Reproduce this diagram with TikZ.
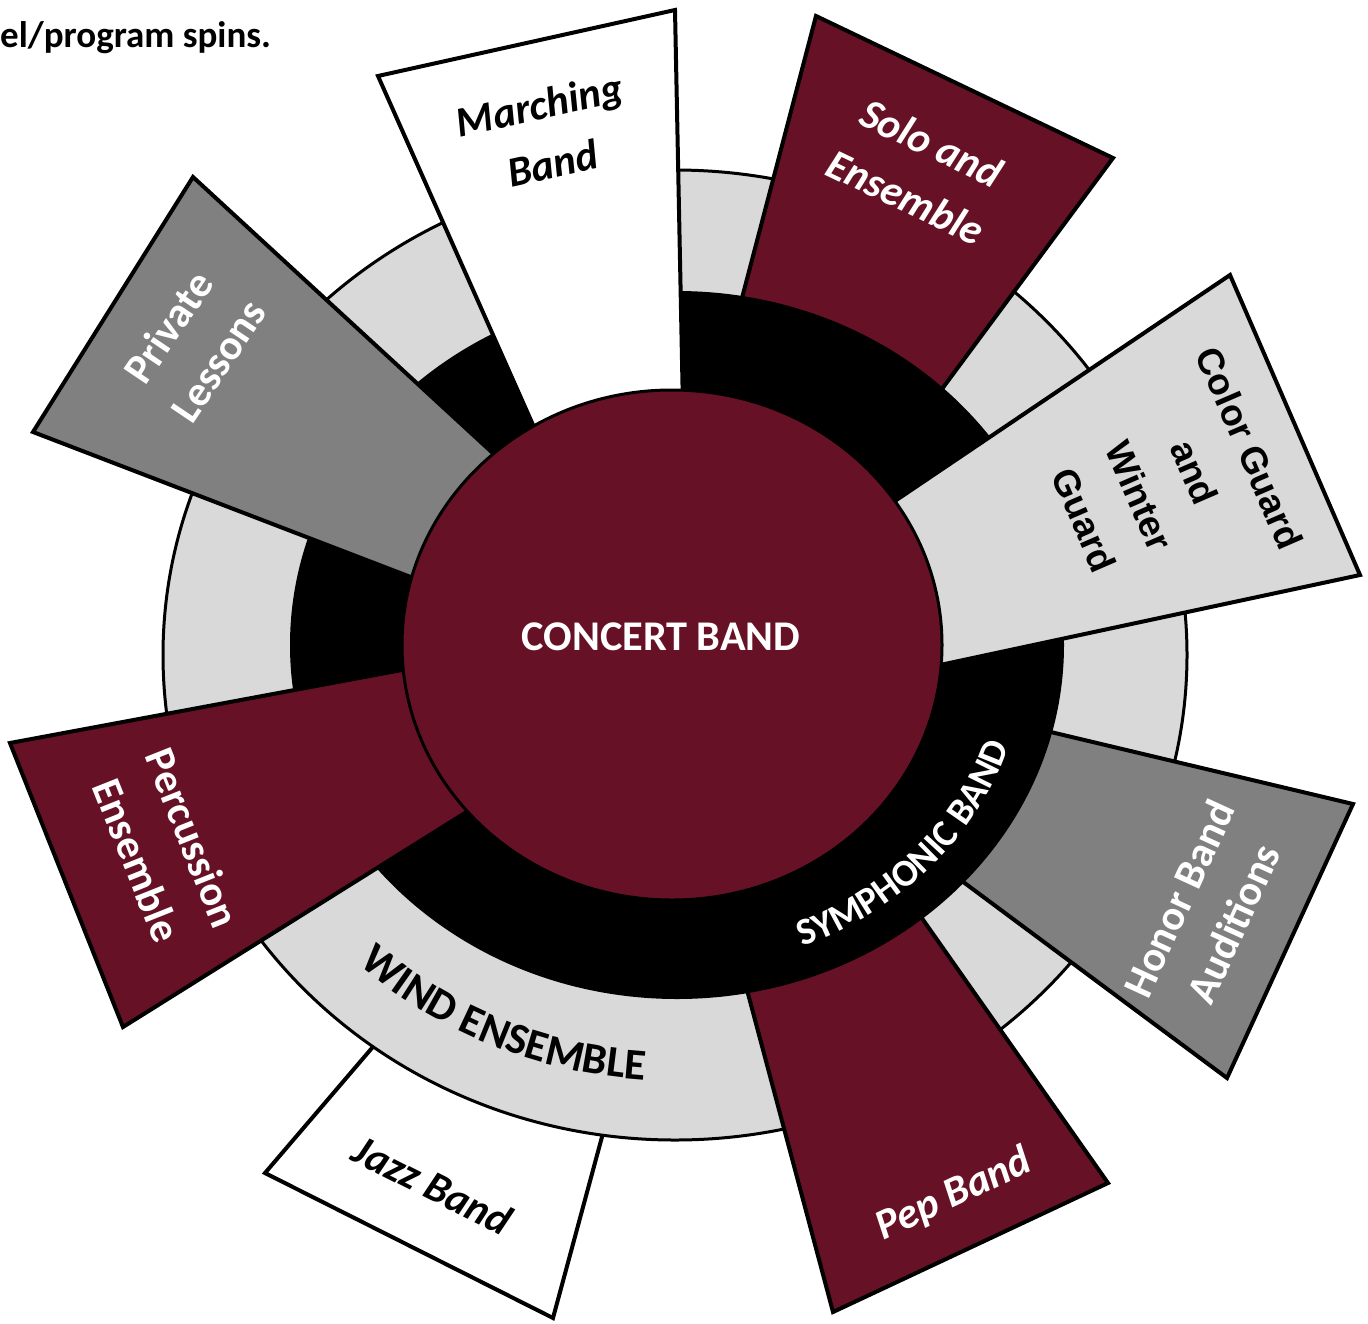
\documentclass[tikz,border=0pt]{standalone}
\usepackage{fontspec}
\setmainfont{Carlito}
\newfontfamily\guardfont{Liberation Sans}
\usetikzlibrary{decorations.text}
\definecolor{bandmaroon}{RGB}{103,17,38}
\definecolor{bandgray}{RGB}{128,128,128}
\definecolor{bandlight}{RGB}{217,217,217}
\newcommand\bandringfont{\fontsize{38}{40}\selectfont\bfseries}
\newcommand\windringfont{\fontsize{44}{46}\selectfont\bfseries}
\tikzset{
  petal/.style={draw=black, line width=4pt, line join=miter},
  ringline/.style={draw=black, line width=3pt},
  lbl/.style={font=\fontsize{42.5}{60}\selectfont\bfseries\itshape, align=center, inner sep=0pt},
  uplbl/.style={font=\fontsize{42.5}{60}\selectfont\bfseries, align=center, inner sep=0pt},
}
\begin{document}
\begin{tikzpicture}[x=1pt,y=-1pt]
        \useasboundingbox (0,0) rectangle (1368,1323);
        \coordinate (ctr) at (677,645);
        \coordinate (gctr) at (675,655);
        \coordinate (cb) at (672,645);
        % petal under the gray ring
        \filldraw [petal, fill=white] (265,1173)--(553,1318)--(639,1000)--(413,1000)--cycle;
        \filldraw [ringline, fill=bandlight] (gctr) ellipse[x radius=512pt, y radius=485pt];
        % petals under the black ring
        \filldraw [petal, fill=bandmaroon] (816,16)--(1113,158)--(919,420)--(710,420)--cycle;
        \filldraw [petal, fill=bandgray] (1353,804)--(1227,1078)--(900,835)--(950,708)--cycle;
        \filldraw [petal, fill=bandmaroon] (1108,1183)--(833,1312)--(723,900)--(874,850)--cycle;
        \fill [black] (ctr) ellipse[x radius=387pt, y radius=354pt];
        % petals over the black ring
        \filldraw [petal, fill=white] (378,76)--(675,10)--(686,560)--(593,560)--cycle;
        \filldraw [petal, fill=bandlight] (1230,275)--(1360,575)--(800,695)--(800,565)--cycle;
        \filldraw [petal, fill=bandmaroon] (10,743)--(123,1027)--(540,766)--(520,648)--cycle;
        \filldraw [petal, fill=bandgray] (193,177)--(560,515)--(520,619)--(33,432)--cycle;
        \filldraw [ringline, fill=bandmaroon] (cb) ellipse[x radius=270pt, y radius=255pt];
        % ring texts
        \path [decorate, decoration={text along path, text color=white, text align=center,
          text={|\bandringfont|SYMPHONIC BAND}}]
          ([shift={(-85:350pt and 323pt)}]ctr) arc[start angle=-85, end angle=-1, x radius=350pt, y radius=323pt];
        \path [decorate, decoration={text along path, text color=black, text align=center,
          text={|\windringfont|WIND ENSEMBLE}}]
          ([shift={(-160:468pt and 436pt)}]ctr) arc[start angle=-160, end angle=-68, x radius=468pt, y radius=436pt];
        % labels
        \node [font=\fontsize{42.3}{46}\selectfont\bfseries, text=white, inner sep=0pt] (concert) at (661,637) {CONCERT BAND};
        \node [lbl, rotate=12.5] (marching) at (546,134) {Marching\\Band};
        \node [lbl, text=white, rotate=-25.5] (solo) at (919,170) {Solo and\\Ensemble};
        \node [font=\fontsize{37}{60}\selectfont\guardfont\bfseries, align=center, inner sep=0pt, rotate=-66.6] (guard) at (1167,484) {Color Guard\\and\\Winter\\Guard};
        \node [uplbl, text=white, rotate=65.3] (honor) at (1206,911) {Honor Band\\Auditions};
        \node [lbl, text=white, rotate=25.1] (pep) at (954,1195) {Pep Band};
        \node [lbl, rotate=-26.7] (jazz) at (433,1185) {Jazz Band};
        \node [uplbl, text=white, rotate=-68.3] (percussion) at (165,849) {Percussion\\Ensemble};
        \node [uplbl, text=white, rotate=56] (private) at (193,344) {Private\\Lessons};
        \node [font=\fontsize{37}{40}\selectfont\bfseries, anchor=base west, inner sep=0pt] (spins) at (0,47) {el/program spins.};
\end{tikzpicture}
\end{document}
